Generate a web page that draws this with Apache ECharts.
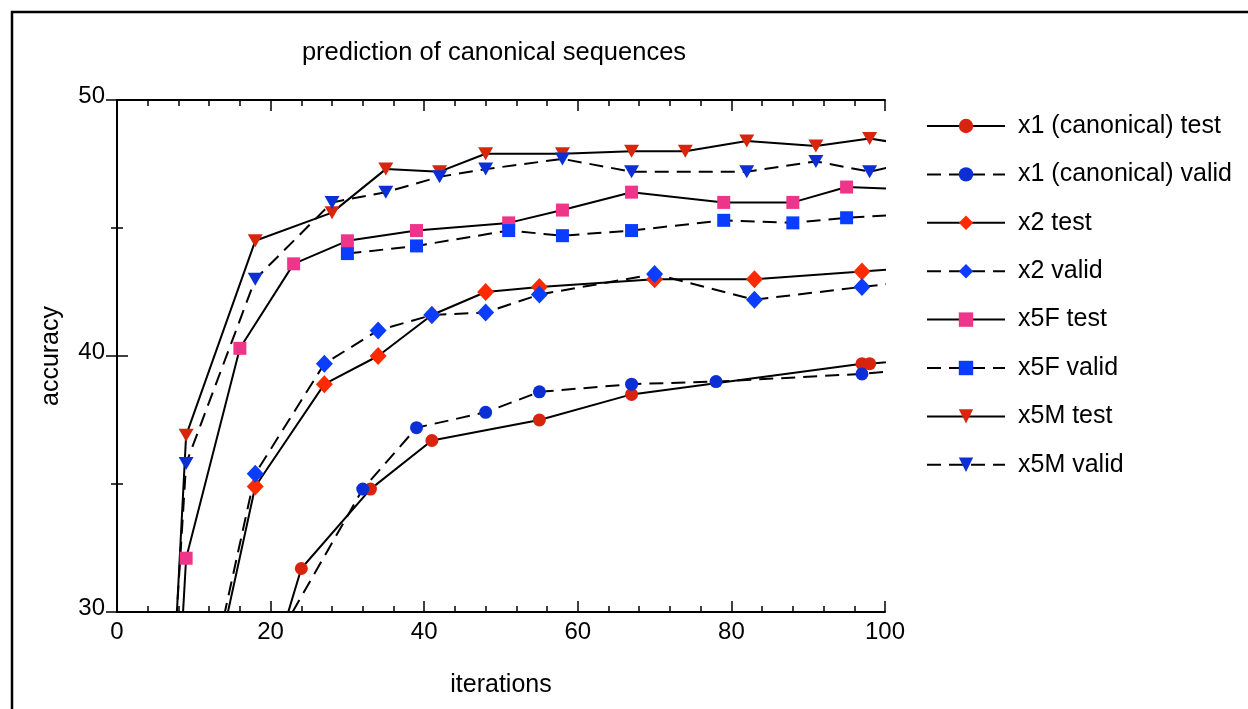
<!DOCTYPE html>
<html>
<head>
<meta charset="utf-8">
<script src="https://cdn.jsdelivr.net/npm/echarts@6/dist/echarts.min.js"></script>
<style>
  html, body { margin: 0; padding: 0; background: #fff; }
  #main { width: 1248px; height: 709px; }
</style>
</head>
<body>
<div id="main"></div>
<script>
// [iteration, accuracy] pairs; first/last points sit outside the axes and get clipped
const x1Test = [[16, 23.7], [24, 31.7], [33, 34.8], [41, 36.7], [55, 37.5], [67, 38.5], [97, 39.7], [98, 39.7], [104, 39.85]]
const x1Valid = [[20, 28.5], [32, 34.8], [39, 37.2], [48, 37.8], [55, 38.6], [67, 38.9], [78, 39.0], [97, 39.3], [104, 39.5]]
const x2Test = [[9, 22.5], [18, 34.9], [27, 38.9], [34, 40.0], [41, 41.6], [48, 42.5], [55, 42.7], [70, 43.0], [83, 43.0], [97, 43.3], [104, 43.45]]
const x2Valid = [[9, 23.1], [18, 35.4], [27, 39.7], [34, 41.0], [41, 41.6], [48, 41.7], [55, 42.4], [70, 43.2], [83, 42.2], [97, 42.7], [104, 42.93]]
const x5FTest = [[7, 21.6], [9, 32.1], [16, 40.3], [23, 43.6], [30, 44.5], [39, 44.9], [51, 45.2], [58, 45.7], [67, 46.4], [79, 46.0], [88, 46.0], [95, 46.6], [104, 46.5]]
const x5FValid = [[30, 44.0], [39, 44.3], [51, 44.9], [58, 44.7], [67, 44.9], [79, 45.3], [88, 45.2], [95, 45.4], [104, 45.55]]
const x5MTest = [[7, 25.4], [9, 36.9], [18, 44.5], [28, 45.6], [35, 47.3], [42, 47.2], [48, 47.9], [58, 47.9], [67, 48.0], [74, 48.0], [82, 48.4], [91, 48.2], [98, 48.5], [104, 48.2]]
const x5MValid = [[7, 26.2], [9, 35.8], [18, 43.0], [28, 46.0], [35, 46.4], [42, 47.0], [48, 47.3], [58, 47.7], [67, 47.2], [82, 47.2], [91, 47.6], [98, 47.2], [104, 47.6]]

const seriesNames = ['x1 (canonical) test', 'x1 (canonical) valid', 'x2 test', 'x2 valid',
  'x5F test', 'x5F valid', 'x5M test', 'x5M valid']
const xTicks = { min: 0, max: 100, interval: 20 }
const yTicks = { min: 30, max: 50, interval: 10 }

const FONT = '"Liberation Sans", Arial, Helvetica, sans-serif'

function makeSeries (name, data, color, symbol, size, dashed, rotate) {
  return {
    name: name,
    type: 'line',
    data: data,
    clip: true,
    symbol: symbol,
    symbolSize: size,
    symbolRotate: rotate || 0,
    showAllSymbol: true,
    itemStyle: { color: color, borderWidth: 0 },
    lineStyle: { color: '#000', width: 2, type: dashed ? [14, 8] : 'solid' },
    emphasis: { disabled: true },
    animation: false
  }
}

const chart = echarts.init(document.getElementById('main'))

const axisCommon = {
  type: 'value',
  axisLine: { show: true, lineStyle: { color: '#000', width: 2 } },
  axisTick: { show: true, inside: true, length: 11, lineStyle: { color: '#000', width: 1.5 } },
  minorTick: { show: true, length: 6, lineStyle: { color: '#000', width: 1.5 } },
  splitLine: { show: false }
}

chart.setOption({
  backgroundColor: '#fff',
  animation: false,
  title: {
    text: 'prediction of canonical sequences',
    left: 489,
    top: 35,
    textAlign: 'center',
    textStyle: { fontFamily: FONT, fontSize: 25.5, fontWeight: 'normal', color: '#000' }
  },
  grid: { left: 117, top: 100, right: 363, bottom: 97 },
  legend: {
    orient: 'vertical',
    left: 921,
    top: 106,
    itemWidth: 78,
    itemHeight: 18,
    itemGap: 18.4,
    selectedMode: false,
    data: seriesNames,
    textStyle: { fontFamily: FONT, fontSize: 25, color: '#000', lineHeight: 30, padding: [0, 0, 0, 8] }
  },
  xAxis: [
    Object.assign({}, axisCommon, {
      position: 'bottom',
      min: xTicks.min, max: xTicks.max, interval: xTicks.interval,
      minorTick: Object.assign({}, axisCommon.minorTick, { splitNumber: 5 }),
      name: 'iterations',
      nameLocation: 'middle',
      nameGap: 61,
      nameTextStyle: { fontFamily: FONT, fontSize: 25, color: '#000' },
      axisLabel: { fontFamily: FONT, fontSize: 24, color: '#000', margin: 8 }
    }),
    Object.assign({}, axisCommon, {
      position: 'top',
      min: xTicks.min, max: xTicks.max, interval: xTicks.interval,
      minorTick: Object.assign({}, axisCommon.minorTick, { splitNumber: 5 }),
      axisLabel: { show: false }
    })
  ],
  yAxis: [
    Object.assign({}, axisCommon, {
      position: 'left',
      min: yTicks.min, max: yTicks.max, interval: yTicks.interval,
      minorTick: Object.assign({}, axisCommon.minorTick, { splitNumber: 2 }),
      name: 'accuracy',
      nameLocation: 'middle',
      nameGap: 53,
      nameTextStyle: { fontFamily: FONT, fontSize: 25, color: '#000' },
      axisLabel: { fontFamily: FONT, fontSize: 24, color: '#000', margin: 12, verticalAlign: 'bottom', lineHeight: 7 }
    }),
    Object.assign({}, axisCommon, {
      position: 'right',
      min: yTicks.min, max: yTicks.max, interval: yTicks.interval,
      minorTick: Object.assign({}, axisCommon.minorTick, { splitNumber: 2 }),
      axisLabel: { show: false }
    })
  ],
  graphic: [{
    type: 'rect',
    shape: { x: 12, y: 12, width: 1260, height: 720 },
    style: { fill: 'none', stroke: '#000', lineWidth: 2.5 },
    silent: true
  }],
  series: [
    makeSeries(seriesNames[0], x1Test, '#d8230e', 'circle', 13, false),
    makeSeries(seriesNames[1], x1Valid, '#0b2fd4', 'circle', 13, true),
    makeSeries(seriesNames[2], x2Test, '#ff2a00', 'diamond', [17, 18], false),
    makeSeries(seriesNames[3], x2Valid, '#0a3dff', 'diamond', [17, 18], true),
    makeSeries(seriesNames[4], x5FTest, '#ee358a', 'rect', 13, false),
    makeSeries(seriesNames[5], x5FValid, '#0a3dff', 'rect', 13, true),
    makeSeries(seriesNames[6], x5MTest, '#d8260e', 'triangle', [15, 13], false, 180),
    makeSeries(seriesNames[7], x5MValid, '#0b2fd4', 'triangle', [15, 13], true, 180)
  ]
})
</script>
</body>
</html>
